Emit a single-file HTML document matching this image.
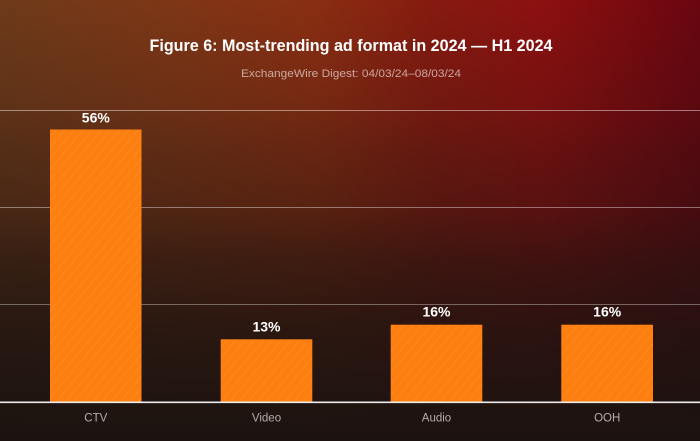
<!DOCTYPE html>
<html>
<head>
<meta charset="utf-8">
<style>
  html, body { margin:0; padding:0; }
  body { width:700px; height:441px; overflow:hidden; }
  .bg {
    position:absolute; left:0; top:0; width:700px; height:441px;
    background:
      linear-gradient(to bottom,
        rgba(28,19,16,0) 0%,
        rgba(28,19,16,0.2) 25%,
        rgba(28,19,16,0.32) 34%,
        rgba(28,19,16,0.45) 47%,
        rgba(28,19,16,0.68) 59%,
        rgba(28,19,16,0.86) 75%,
        rgba(28,19,16,0.97) 92%,
        rgba(28,19,16,1) 100%),
      linear-gradient(to right, #6e3a1a 0%, #7e3616 25%, #8a2e12 45%, #861a10 62%, #8c1010 78%, #6a0610 100%);
  }
  svg { position:absolute; left:0; top:0; }
</style>
</head>
<body>
<div class="bg"></div>
<svg width="700" height="441" viewBox="0 0 700 441" xmlns="http://www.w3.org/2000/svg">
  <defs>
    <pattern id="hatch" patternUnits="userSpaceOnUse" width="7" height="7" patternTransform="rotate(40)">
      <line x1="0" y1="0" x2="0" y2="7" stroke="rgba(255,255,255,0.18)" stroke-width="0.8"/>
    </pattern>
  </defs>

  <!-- title -->
  <text x="351" y="51" text-anchor="middle" font-family="Liberation Sans, sans-serif" font-size="17" fill="#ffffff" textLength="403" lengthAdjust="spacingAndGlyphs"><tspan font-weight="bold">Figure 6:</tspan><tspan font-weight="bold"> Most-trending ad format in 2024 — H1 2024</tspan></text>
  <text x="351" y="77" text-anchor="middle" font-family="Liberation Sans, sans-serif" font-size="11" fill="rgba(230,210,205,0.75)" textLength="220" lengthAdjust="spacingAndGlyphs">ExchangeWire Digest: 04/03/24–08/03/24</text>

  <!-- gridlines -->
  <line x1="0" y1="110.5" x2="700" y2="110.5" stroke="rgba(255,255,255,0.45)" stroke-width="1"/>
  <line x1="0" y1="207.5" x2="700" y2="207.5" stroke="rgba(255,255,255,0.4)" stroke-width="1"/>
  <line x1="0" y1="304.5" x2="700" y2="304.5" stroke="rgba(255,255,255,0.35)" stroke-width="1"/>

  <!-- bars -->
  <rect x="50" y="129.5" width="91.5" height="272.5" fill="#fd7f10"/>
  <rect x="50" y="129.5" width="91.5" height="272.5" fill="url(#hatch)"/>
  <rect x="220.7" y="339.3" width="91.6" height="62.7" fill="#fd7f10"/>
  <rect x="220.7" y="339.3" width="91.6" height="62.7" fill="url(#hatch)"/>
  <rect x="390.7" y="324.7" width="91.6" height="77.3" fill="#fd7f10"/>
  <rect x="390.7" y="324.7" width="91.6" height="77.3" fill="url(#hatch)"/>
  <rect x="561.3" y="324.7" width="91.7" height="77.3" fill="#fd7f10"/>
  <rect x="561.3" y="324.7" width="91.7" height="77.3" fill="url(#hatch)"/>

  <!-- baseline -->
  <line x1="0" y1="402.3" x2="700" y2="402.3" stroke="#ececec" stroke-width="1.6"/>

  <!-- value labels -->
  <g font-family="Liberation Sans, sans-serif" font-weight="bold" font-size="14" fill="#ffffff" text-anchor="middle">
    <text x="95.8" y="122.5">56%</text>
    <text x="266.5" y="331.7">13%</text>
    <text x="436.5" y="316.7">16%</text>
    <text x="607.2" y="316.7">16%</text>
  </g>

  <!-- category labels -->
  <g font-family="Liberation Sans, sans-serif" font-size="11.5" fill="#b5aeac" text-anchor="middle">
    <text x="95.8" y="421.7">CTV</text>
    <text x="266.5" y="421.7">Video</text>
    <text x="436.5" y="421.7">Audio</text>
    <text x="607.2" y="421.7">OOH</text>
  </g>
</svg>
</body>
</html>
